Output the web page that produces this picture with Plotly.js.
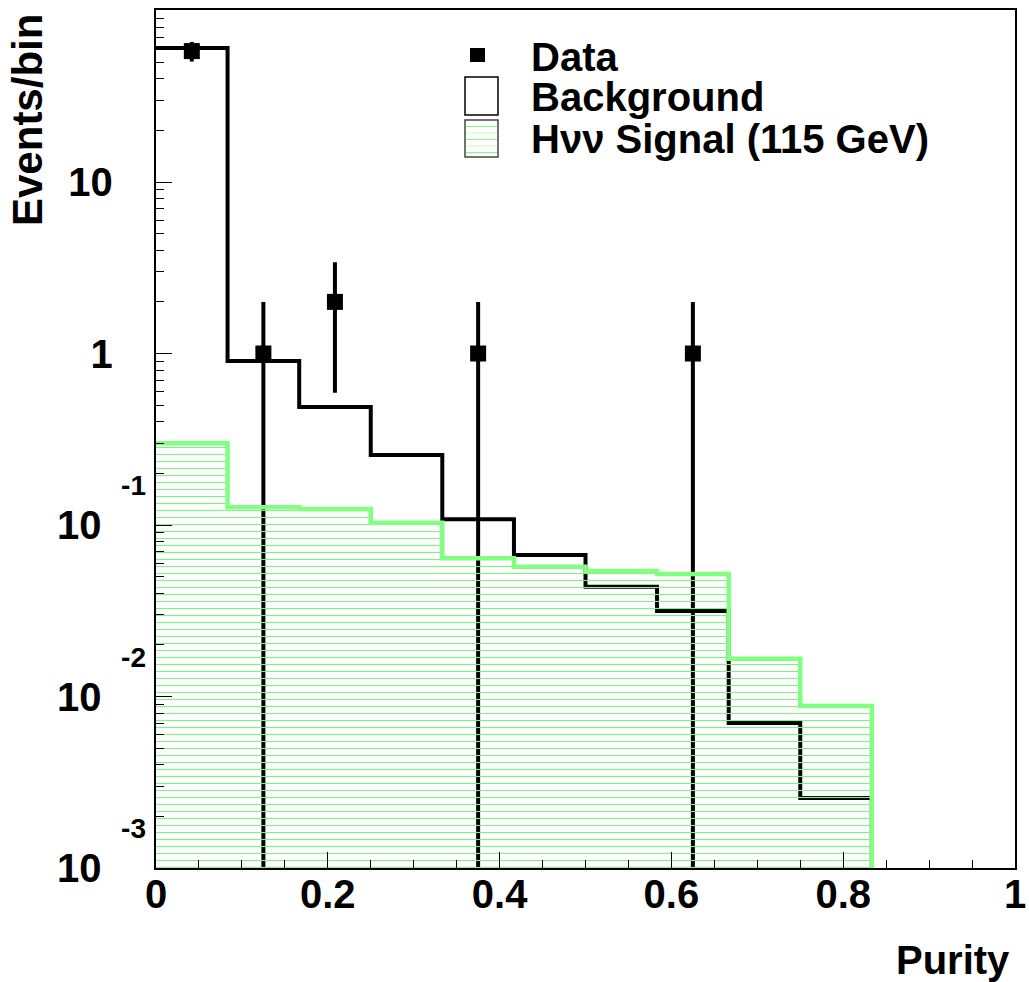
<!DOCTYPE html>
<html>
<head>
<meta charset="utf-8">
<script src="https://cdn.plot.ly/plotly-3.0.1.min.js"></script>
<style>html,body{margin:0;padding:0;background:#fff;}#chart{width:1029px;height:982px;}</style>
</head>
<body>
<div id="chart"></div>
<script>
// ---- data ----
const binEdges = [0, 0.0833, 0.1667, 0.25, 0.3333, 0.4167, 0.5, 0.5833, 0.6667, 0.75, 0.8333];
const background = [60.5, 0.904, 0.488, 0.256, 0.108, 0.0668, 0.0436, 0.0315, 0.0070, 0.00256];
const signal = [0.30, 0.127, 0.124, 0.103, 0.064, 0.057, 0.054, 0.0518, 0.0166, 0.0088];
const dataX = [0.0417, 0.125, 0.2083, 0.375, 0.625];
const dataY = [58, 1, 2, 1, 1];
const dataErr = [7.6, 1, 1.41, 1, 1];
const xTickVals = [0, 0.2, 0.4, 0.6, 0.8, 1];
const xTickText = ['0', '0.2', '0.4', '0.6', '0.8', '1'];
const yTickVals = [0.001, 0.01, 0.1, 1, 10];
const yTickMain = ['10', '10', '10', '1', '10'];
const yTickExp = ['-3', '-2', '-1', '', ''];
const legendLabels = ['Data', 'Background', 'H\u03bd\u03bd Signal (115 GeV)'];
const xTitle = 'Purity';
const yTitle = 'Events/bin';

// ---- layout constants ----
const yRange = [-3, 2.003];
const yFloor = Math.pow(10, yRange[0]);
const FONT = 'Liberation Sans, Arial, Helvetica, sans-serif';
const M = {l: 156, r: 14, t: 10, b: 114};
const W = 1029, H = 982;
const PW = W - M.l - M.r, PH = H - M.t - M.b;
const X = px => (px - M.l) / PW;
const Y = py => (H - M.b - py) / PH;

function stepXY(edges, vals) {
  const x = edges.slice();
  x.push(edges[edges.length - 1]);
  const y = vals.slice();
  y.push(vals[vals.length - 1]);
  y.push(yFloor);
  return {x, y};
}

const nb = n => '\u00a0'.repeat(n);
const yTickText = yTickVals.map((v, i) => {
  const top = yTickExp[i] ? '<sub>' + yTickExp[i] + '</sub>' : nb(1);
  const pad = yTickExp[i] ? nb(4) : nb(3);
  return top + '<br>' + yTickMain[i] + pad;
});

const bg = stepXY(binEdges, background);
const sg = stepXY(binEdges, signal);

const traces = [
  {
    type: 'scatter', mode: 'lines', x: bg.x, y: bg.y,
    line: {shape: 'hv', color: '#000', width: 4},
    showlegend: false, hoverinfo: 'skip'
  },
  {
    type: 'scatter', mode: 'markers', x: dataX, y: dataY,
    marker: {symbol: 'square', size: 16, color: '#000'},
    error_y: {type: 'data', array: dataErr, visible: true, color: '#000', thickness: 4, width: 0},
    showlegend: false, hoverinfo: 'skip'
  },
  {
    type: 'scatter', mode: 'lines', x: sg.x, y: sg.y,
    line: {shape: 'hv', color: '#80ff80', width: 4.5},
    fill: 'tozeroy', fillcolor: 'rgba(0,0,0,0)',
    fillpattern: {shape: '-', fgcolor: '#84f084', bgcolor: 'rgba(0,0,0,0)', size: 7, solidity: 0.16},
    showlegend: false, hoverinfo: 'skip'
  }
];

// legend (drawn as decoration)
const shapes = [
  {type: 'rect', xref: 'paper', yref: 'paper', x0: X(470), x1: X(485), y0: Y(62), y1: Y(48),
   fillcolor: '#000', line: {width: 0}},
  {type: 'rect', xref: 'paper', yref: 'paper', x0: X(465), x1: X(498), y0: Y(115), y1: Y(77),
   fillcolor: '#fff', line: {color: '#000', width: 1.5}},
  {type: 'rect', xref: 'paper', yref: 'paper', x0: X(465), x1: X(498), y0: Y(157), y1: Y(120),
   fillcolor: '#fff', line: {color: '#444', width: 1.5}}
];
let k = 0;
for (let py = 126.5; py < 156; py += 6.5) {
  shapes.push({type: 'line', xref: 'paper', yref: 'paper', x0: X(466), x1: X(497), y0: Y(py), y1: Y(py),
    line: {color: k % 2 ? '#b8ffb8' : '#80ff80', width: 1}});
  k++;
}

const tf = size => ({family: FONT, size: size, color: '#000', weight: 'bold'});
const legendY = [57, 97, 139];
const annotations = legendLabels.map((t, i) => ({
  xref: 'paper', yref: 'paper', x: X(531), y: Y(legendY[i]), xanchor: 'left', yanchor: 'middle',
  text: t, showarrow: false, font: tf(40), borderpad: 0, borderwidth: 0
}));
annotations.push({
  xref: 'paper', yref: 'paper', x: X(1012), y: Y(960), xanchor: 'right', yanchor: 'middle',
  text: xTitle, showarrow: false, font: tf(40)
});
annotations.push({
  xref: 'paper', yref: 'paper', x: X(27), y: Y(12), xanchor: 'center', yanchor: 'top',
  text: yTitle, textangle: -90, showarrow: false, font: tf(42)
});

const layout = {
  width: W, height: H,
  margin: M,
  paper_bgcolor: '#fff', plot_bgcolor: '#fff',
  showlegend: false,
  font: {family: FONT, color: '#000'},
  xaxis: {
    range: [0, 1], showgrid: false, zeroline: false,
    showline: true, linecolor: '#000', linewidth: 2, mirror: true,
    ticks: 'inside', ticklen: 16, tickwidth: 1, tickcolor: '#000',
    tickmode: 'array', tickvals: xTickVals, ticktext: xTickText,
    tickfont: tf(40), ticklabelstandoff: -10,
    minor: {dtick: 0.05, ticks: 'inside', ticklen: 8, tickwidth: 1, tickcolor: '#000', showgrid: false}
  },
  yaxis: {
    type: 'log', range: yRange, showgrid: false, zeroline: false,
    showline: true, linecolor: '#000', linewidth: 2, mirror: true,
    ticks: 'inside', ticklen: 16, tickwidth: 1, tickcolor: '#000',
    tickmode: 'array', tickvals: yTickVals, ticktext: yTickText,
    tickfont: tf(40), ticklabelshift: -26,
    minor: {dtick: 'D1', ticks: 'inside', ticklen: 8, tickwidth: 1, tickcolor: '#000', showgrid: false}
  },
  shapes: shapes,
  annotations: annotations
};

Plotly.newPlot('chart', traces, layout, {staticPlot: true, displayModeBar: false});
</script>
</body>
</html>
